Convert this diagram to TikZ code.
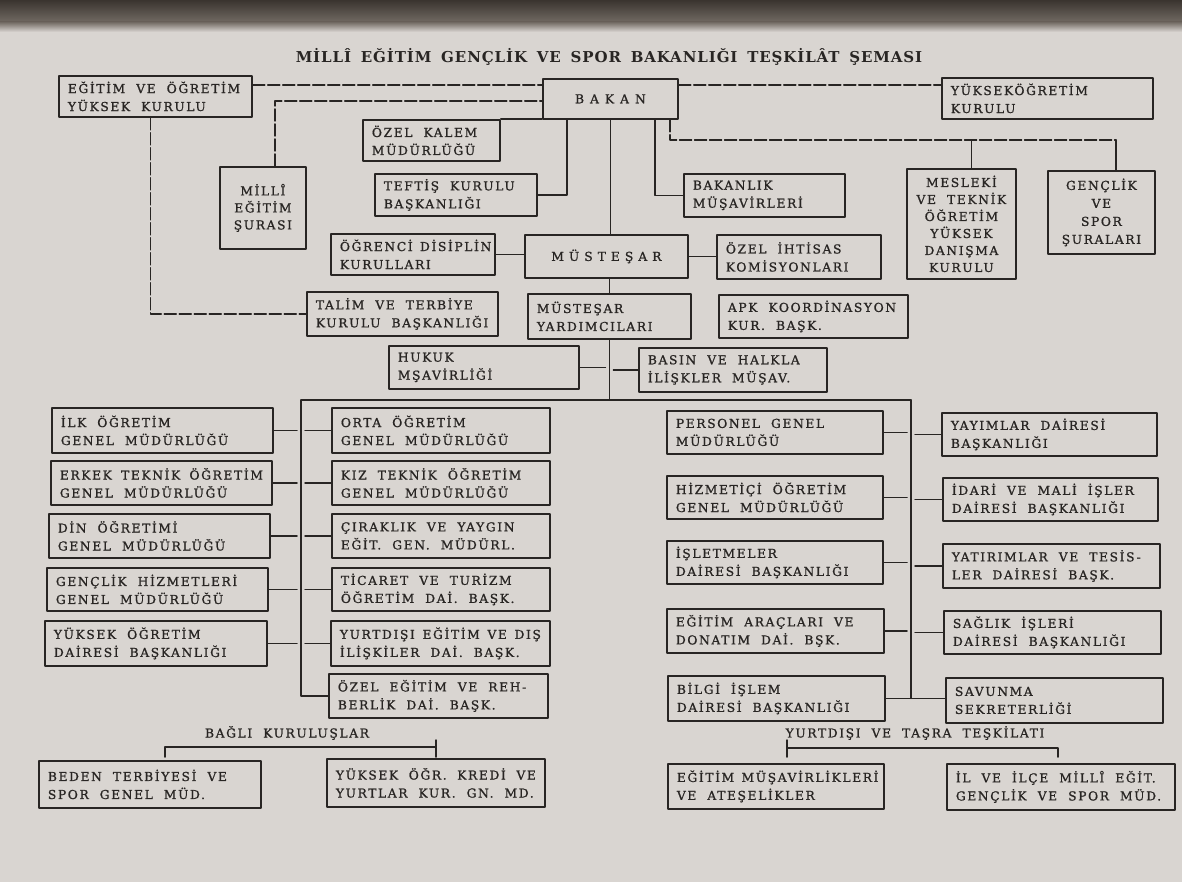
\documentclass[tikz,border=0pt]{standalone}
\usepackage{fontspec}
\setmainfont{DejaVu Serif}
\newfontfamily\unitfont[LetterSpace=13, FakeBold=1, WordSpace=2]{DejaVu Serif}
\newfontfamily\titlefont[LetterSpace=6, WordSpace=1.6]{DejaVu Serif Bold}
\usetikzlibrary{calc}
\definecolor{paper}{RGB}{217,213,209}
\definecolor{ink}{RGB}{40,37,35}
\definecolor{bandtop}{RGB}{58,52,47}
\definecolor{bandmid}{RGB}{112,105,98}
\hyphenpenalty=10000
\tikzset{
  unit/.style={draw=ink, line width=1.8pt, anchor=north west, inner xsep=9pt, inner ysep=0pt,
    align=flush left, text=ink, font=\unitfont\fontsize{12.3}{18}\selectfont},
  midunit/.style={unit, align=flush center},
  head/.style={text=ink, font=\unitfont\fontsize{12.3}{15}\selectfont},
  link/.style={draw=ink, line width=1.5pt},
  dashlink/.style={link, dash pattern=on 12pt off 3pt},
  stubin/.style={link, shorten >=4pt},
  stubout/.style={link, shorten <=4pt},
}
\begin{document}
\begin{tikzpicture}[line cap=round,line join=round,x=1pt,y=-1pt]
\fill[paper] (0,0) rectangle (1182,882);
\useasboundingbox (0,0) rectangle (1182,882);
\shade[top color=bandtop, bottom color=bandmid] (0,0) rectangle (1182,22);
\shade[top color=bandmid, bottom color=paper] (0,22) rectangle (1182,32);

\node[text=ink, font=\titlefont\fontsize{15}{17}\selectfont] (baslik) at (609,57)
  {MİLLÎ EĞİTİM GENÇLİK VE SPOR BAKANLIĞI TEŞKİLÂT ŞEMASI};

% bakan ve bagli kurullar
\node[unit, text width=175pt, minimum height=41pt] (egitim) at (58,75) {EĞİTİM~VE~ÖĞRETİM\\YÜKSEK~KURULU};
\node[midunit, text width=117pt, minimum height=40pt] (bakan) at (542,78)
  {B\hspace{6pt}A\hspace{6pt}K\hspace{6pt}A\hspace{6pt}N};
\node[unit, text width=193pt, minimum height=41pt] (yok) at (941,77) {YÜKSEKÖĞRETİM\\KURULU};
\node[unit, text width=119pt, minimum height=41pt] (ozelkalem) at (362,119) {ÖZEL~KALEM\\MÜDÜRLÜĞÜ};
\node[midunit, text width=68pt, minimum height=82pt, font=\unitfont\fontsize{12.3}{17}\selectfont] (sura) at (219,166) {MİLLÎ\\EĞİTİM\\ŞURASI};
\node[unit, text width=144pt, minimum height=42pt] (teftis) at (374,173) {TEFTİŞ~KURULU\\BAŞKANLIĞI};
\node[unit, text width=143pt, minimum height=43pt] (musavir) at (683,173) {BAKANLIK\\MÜŞAVİRLERİ};
\node[midunit, text width=91pt, minimum height=110pt, font=\unitfont\fontsize{12.3}{17}\selectfont] (meslek) at (906,168)
  {MESLEKİ\\VE~TEKNİK\\ÖĞRETİM\\YÜKSEK\\DANIŞMA\\KURULU};
\node[midunit, text width=89pt, minimum height=83pt] (genclikS) at (1047,170)
  {GENÇLİK\\VE\\SPOR\\ŞURALARI};

% mustesar
\node[unit, text width=146pt, minimum height=41pt] (ogrenci) at (330,233) {ÖĞRENCİ~DİSİPLİN\\KURULLARI};
\node[midunit, text width=145pt, minimum height=43pt] (mustesar) at (524,234)
  {M\hspace{5pt}Ü\hspace{5pt}S\hspace{5pt}T\hspace{5pt}E\hspace{5pt}Ş\hspace{5pt}A\hspace{5pt}R};
\node[unit, text width=146pt, minimum height=44pt] (ihtisas) at (716,234) {ÖZEL~İHTİSAS\\KOMİSYONLARI};
\node[unit, text width=173pt, minimum height=44pt] (talim) at (306,291) {TALİM~VE~TERBİYE\\KURULU~BAŞKANLIĞI};
\node[unit, text width=145pt, minimum height=45pt] (yardimci) at (527,293) {MÜSTEŞAR\\YARDIMCILARI};
\node[unit, text width=171pt, minimum height=43pt] (apk) at (718,294) {APK~KOORDİNASYON\\KUR.~BAŞK.};
\node[unit, text width=172pt, minimum height=43pt] (hukuk) at (388,345) {HUKUK\\MŞAVİRLİĞİ};
\node[unit, text width=170pt, minimum height=44pt] (basin) at (638,347) {BASIN~VE~HALKLA\\İLİŞKLER~MÜŞAV.};

% sol birimler
\node[unit, text width=203pt, minimum height=45pt] (ilk) at (51,407) {İLK~ÖĞRETİM\\GENEL~MÜDÜRLÜĞÜ};
\node[unit, text width=203pt, minimum height=44pt] (erkek) at (50,460) {ERKEK~TEKNİK~ÖĞRETİM\\GENEL~MÜDÜRLÜĞÜ};
\node[unit, text width=203pt, minimum height=44pt] (din) at (48,513) {DİN~ÖĞRETİMİ\\GENEL~MÜDÜRLÜĞÜ};
\node[unit, text width=203pt, minimum height=43pt] (genclikH) at (46,567) {GENÇLİK~HİZMETLERİ\\GENEL~MÜDÜRLÜĞÜ};
\node[unit, text width=204pt, minimum height=45pt] (yuksekO) at (44,620) {YÜKSEK~ÖĞRETİM\\DAİRESİ~BAŞKANLIĞI};
\node[unit, text width=200pt, minimum height=45pt] (orta) at (331,407) {ORTA~ÖĞRETİM\\GENEL~MÜDÜRLÜĞÜ};
\node[unit, text width=200pt, minimum height=44pt] (kiz) at (331,460) {KIZ~TEKNİK~ÖĞRETİM\\GENEL~MÜDÜRLÜĞÜ};
\node[unit, text width=200pt, minimum height=44pt] (cirak) at (331,513) {ÇIRAKLIK~VE~YAYGIN\\EĞİT.~GEN.~MÜDÜRL.};
\node[unit, text width=200pt, minimum height=43pt] (ticaret) at (331,567) {TİCARET~VE~TURİZM\\ÖĞRETİM~DAİ.~BAŞK.};
\node[unit, text width=201pt, minimum height=45pt] (yurtdisi) at (330,620) {YURTDIŞI~EĞİTİM~VE~DIŞ\\İLİŞKİLER~DAİ.~BAŞK.};
\node[unit, text width=201pt, minimum height=44pt] (ozelegt) at (328,673) {ÖZEL~EĞİTİM~VE~REH-\\BERLİK~DAİ.~BAŞK.};

% sag birimler
\node[unit, text width=198pt, minimum height=43pt] (personel) at (666,410) {PERSONEL~GENEL\\MÜDÜRLÜĞÜ};
\node[unit, text width=198pt, minimum height=43pt] (hizmet) at (666,475) {HİZMETİÇİ~ÖĞRETİM\\GENEL~MÜDÜRLÜĞÜ};
\node[unit, text width=198pt, minimum height=43pt] (isletme) at (666,540) {İŞLETMELER\\DAİRESİ~BAŞKANLIĞI};
\node[unit, text width=199pt, minimum height=44pt] (arac) at (666,608) {EĞİTİM~ARAÇLARI~VE\\DONATIM~DAİ.~BŞK.};
\node[unit, text width=199pt, minimum height=45pt] (bilgi) at (667,675) {BİLGİ~İŞLEM\\DAİRESİ~BAŞKANLIĞI};
\node[unit, text width=197pt, minimum height=43pt] (yayim) at (941,412) {YAYIMLAR~DAİRESİ\\BAŞKANLIĞI};
\node[unit, text width=197pt, minimum height=43pt] (idari) at (942,477) {İDARİ~VE~MALİ~İŞLER\\DAİRESİ~BAŞKANLIĞI};
\node[unit, text width=199pt, minimum height=44pt] (yatirim) at (942,543) {YATIRIMLAR~VE~TESİS-\\LER~DAİRESİ~BAŞK.};
\node[unit, text width=199pt, minimum height=43pt] (saglik) at (943,610) {SAĞLIK~İŞLERİ\\DAİRESİ~BAŞKANLIĞI};
\node[unit, text width=199pt, minimum height=45pt] (savunma) at (945,677) {SAVUNMA\\SEKRETERLİĞİ};

% bagli kuruluslar, tasra
\node[head] (bagli) at (287,733) {BAĞLI~KURULUŞLAR};
\node[head] (tasra) at (915,733) {YURTDIŞI~VE~TAŞRA~TEŞKİLATI};
\node[unit, text width=204pt, minimum height=47pt] (beden) at (38,760) {BEDEN~TERBİYESİ~VE\\SPOR~GENEL~MÜD.};
\node[unit, text width=200pt, minimum height=48pt] (kredi) at (326,758) {YÜKSEK~ÖĞR.~KREDİ~VE\\YURTLAR~KUR.~GN.~MD.};
\node[unit, text width=198pt, minimum height=45pt] (egmus) at (667,763) {EĞİTİM~MÜŞAVİRLİKLERİ\\VE~ATEŞELİKLER};
\node[unit, text width=210pt, minimum height=46pt] (ilce) at (946,763) {İL~VE~İLÇE~MİLLÎ~EĞİT.\\GENÇLİK~VE~SPOR~MÜD.};

\coordinate (ltop) at (301,400);
\coordinate (rtop) at (911,400);
\coordinate (kurulhub) at (1116,140);

% baglantilar
\draw[dashlink] ([yshift=11.5pt]egitim.east) -- ([yshift=11.5pt]egitim.east -| bakan.west);
\draw[dashlink] ([xshift=12pt]sura.north) |- ([yshift=-2pt]bakan.west);
\draw[dashlink] ([yshift=14pt]bakan.east) -- ([yshift=14pt]bakan.east -| yok.west);
\draw[dashlink] ([xshift=-5pt]egitim.south) |- (talim.west);
\draw[dashlink] ([xshift=-9pt]bakan.south east) |- (kurulhub);
\draw[link] ([xshift=10pt]meslek.north) -- ([xshift=10pt]meslek.north |- kurulhub);
\draw[link] (kurulhub) -- (kurulhub |- genclikS.north);
\draw[link] (ozelkalem.north east) -- (ozelkalem.north east -| bakan.west);
\draw[link] (teftis.east) -| ([xshift=25pt]bakan.south west);
\draw[link] (bakan.south) -- (bakan.south |- mustesar.north);
\draw[link] (musavir.west) -| ([xshift=-24pt]bakan.south east);
\draw[link] (ogrenci.east) -- (ogrenci.east -| mustesar.west);
\draw[link] (mustesar.east) -- (mustesar.east -| ihtisas.west);
\draw[link] (yardimci.north |- mustesar.south) -- (yardimci.north);
\draw[link] (yardimci.south) -- (yardimci.south |- ltop);
\draw[stubin] (hukuk.east) -- (hukuk.east -| yardimci.south);
\draw[stubout] (basin.west -| yardimci.south) -- (basin.west);
\draw[link] (ltop) -- (rtop);
\draw[link] (ltop) |- (ozelegt.west);
\draw[link] (rtop) -- (rtop |- bilgi.east);
\draw[link] (bilgi.east) -- (bilgi.east -| savunma.west);
\foreach \a/\b in {ilk/orta, erkek/kiz, din/cirak, genclikH/ticaret, yuksekO/yurtdisi}{
  \draw[stubin] (\a.east) -- (\a.east -| ltop);
  \draw[stubout] (ltop |- \b.west) -- (\b.west);
}
\foreach \a/\b in {personel/yayim, hizmet/idari, isletme/yatirim, arac/saglik}{
  \draw[stubin] (\a.east) -- (\a.east -| rtop);
  \draw[stubout] (rtop |- \b.west) -- (\b.west);
}
\draw[link] ([xshift=15pt,yshift=3pt]beden.north) |- ([yshift=11pt]kredi.north);
\draw[link] ([yshift=18pt]kredi.north) -- ([yshift=1pt]kredi.north);
\draw[link] ([xshift=11pt,yshift=23pt]egmus.north) -- ([xshift=11pt,yshift=6pt]egmus.north);
\draw[link] ([xshift=11pt,yshift=15pt]egmus.north) -| ([xshift=-3pt,yshift=6pt]ilce.north);
\end{tikzpicture}
\end{document}
